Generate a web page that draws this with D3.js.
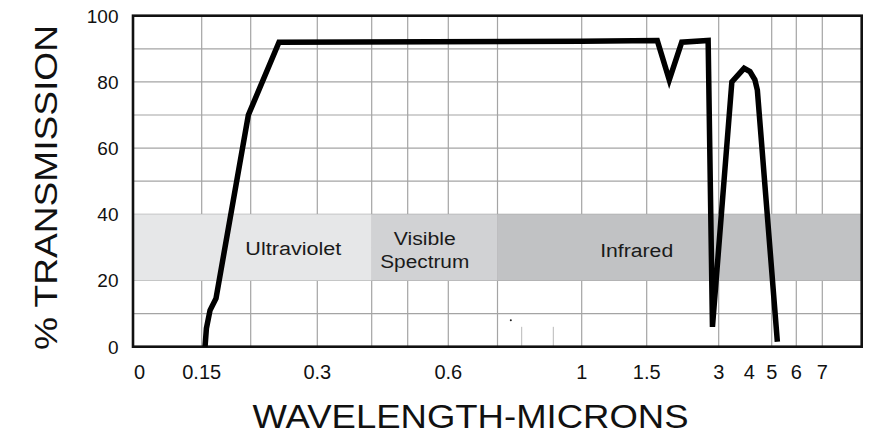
<!DOCTYPE html>
<html>
<head>
<meta charset="utf-8">
<script src="https://cdn.jsdelivr.net/npm/d3@7"></script>
<style>
  html, body { margin: 0; padding: 0; background: #fff; }
  svg { display: block; font-family: "Liberation Sans", Arial, Helvetica, sans-serif; }
</style>
</head>
<body>
<svg id="chart" width="879" height="438"></svg>
<script>
// ---------------- DATA ----------------
// Breakpoints of the (non-uniform) wavelength axis, in microns
const xBreaks = [0, 0.15, 0.2, 0.3, 0.4, 0.5, 0.6, 0.7, 0.8, 0.9, 1, 1.5, 3, 4, 5, 6, 7];
// Tick labels on the x axis (microns)
const xTickValues = [0, 0.15, 0.3, 0.6, 1, 1.5, 3, 4, 5, 6, 7];
const xTickLabels = ["0", "0.15", "0.3", "0.6", "1", "1.5", "3", "4", "5", "6", "7"];
// Vertical grid lines (microns)
const xGridValues = [0.15, 0.2, 0.3, 0.4, 0.5, 0.6, 0.7, 1, 1.5, 3, 5, 6, 7];
const xShortGridValues = [0.8, 0.9];
// Y ticks (% transmission)
const yTickValues = [0, 20, 40, 60, 80, 100];
const yGridValues = [10, 20, 30, 40, 50, 60, 70, 80, 90];
// Spectrum bands
const bandNames = ["Ultraviolet", "Visible Spectrum", "Infrared"];
const bandStart = [null, 0.4, 0.7];
const bandEnd = [0.4, 0.7, null];
const bandLow = 20, bandHigh = 40;
// Transmission curve
const curveWavelength = [0.1534, 0.1548, 0.1585, 0.1646, 0.1976, 0.2425, 1.0, 1.72, 1.97, 2.23, 2.78, 2.87, 3.43, 3.83, 4.03, 4.25, 4.36, 5.23];
const curveTransmission = [0, 5.5, 11, 14.6, 70, 92.0, 92.3, 92.5, 80.6, 92.0, 92.5, 6, 80, 84.1, 83.1, 80.6, 77.5, 1.5];

// ---------------- LAYOUT ----------------
const plot = { left: 133, top: 15.7, right: 861.7, bottom: 346.7 };
const xBreakPx = [139.5, 201.7, 250.7, 317.3, 371.7, 407.7, 448.3, 497.5, 521.7, 553.3, 581.7, 646.7, 718.7, 749.3, 771.7, 796.3, 822.3];
const bandColors = ["#e6e7e8", "#d1d2d4", "#c1c2c4"];
const bandLabelAt = [0.264, 0.542, 1.423];
const gridColor = "#a4a4a4";

const svg = d3.select("#chart");
const x = d3.scaleLinear().domain(xBreaks).range(xBreakPx);
const y = d3.scaleLinear().domain([0, 100]).range([plot.bottom, plot.top]);

// Horizontal grid
svg.append("g").selectAll("line").data(yGridValues).join("line")
  .attr("x1", plot.left).attr("x2", plot.right)
  .attr("y1", d => y(d)).attr("y2", d => y(d))
  .attr("stroke", gridColor).attr("stroke-width", 1.2);

// Vertical grid
svg.append("g").selectAll("line").data(xGridValues).join("line")
  .attr("x1", d => x(d)).attr("x2", d => x(d))
  .attr("y1", plot.top).attr("y2", plot.bottom)
  .attr("stroke", gridColor).attr("stroke-width", 1.2);
svg.append("g").selectAll("line").data(xShortGridValues).join("line")
  .attr("x1", d => x(d)).attr("x2", d => x(d))
  .attr("y1", y(6)).attr("y2", plot.bottom)
  .attr("stroke", "#b8b8b8").attr("stroke-width", 1);

// Bands
const bands = bandNames.map((n, i) => ({
  name: n,
  x0: bandStart[i] == null ? plot.left : x(bandStart[i]),
  x1: bandEnd[i] == null ? plot.right : x(bandEnd[i]),
  color: bandColors[i],
  labelX: x(bandLabelAt[i])
}));
svg.append("g").selectAll("rect").data(bands).join("rect")
  .attr("x", d => d.x0).attr("width", d => d.x1 - d.x0)
  .attr("y", y(bandHigh)).attr("height", y(bandLow) - y(bandHigh))
  .attr("fill", d => d.color);

const bandText = svg.append("g").attr("fill", "#1a1a1a").attr("font-size", 18).attr("text-anchor", "middle");
// Ultraviolet
bandText.append("text").attr("x", bands[0].labelX).attr("y", 255)
  .attr("textLength", 96).attr("lengthAdjust", "spacingAndGlyphs").text("Ultraviolet");
// Visible Spectrum (two lines)
const vis = bands[1].name.split(" ");
bandText.append("text").attr("x", bands[1].labelX).attr("y", 245)
  .attr("textLength", 62).attr("lengthAdjust", "spacingAndGlyphs").text(vis[0]);
bandText.append("text").attr("x", bands[1].labelX).attr("y", 268)
  .attr("textLength", 89).attr("lengthAdjust", "spacingAndGlyphs").text(vis[1]);
// Infrared
bandText.append("text").attr("x", bands[2].labelX).attr("y", 256.5)
  .attr("textLength", 73).attr("lengthAdjust", "spacingAndGlyphs").text("Infrared");

// Small artifact dot
svg.append("circle").attr("cx", x(0.755)).attr("cy", y(8)).attr("r", 1).attr("fill", "#222");

// Frame
svg.append("rect")
  .attr("x", plot.left).attr("y", plot.top)
  .attr("width", plot.right - plot.left).attr("height", plot.bottom - plot.top)
  .attr("fill", "none").attr("stroke", "#111").attr("stroke-width", 2.6);

// Curve
const pts = curveWavelength.map((w, i) => [w, curveTransmission[i]]);
svg.append("path")
  .datum(pts)
  .attr("d", d3.line().x(d => x(d[0])).y(d => y(d[1])))
  .attr("fill", "none").attr("stroke", "#000").attr("stroke-width", 5.5)
  .attr("stroke-linejoin", "miter").attr("stroke-miterlimit", 4).attr("stroke-linecap", "butt");

// X tick labels
svg.append("g").attr("font-size", 20).attr("fill", "#111").attr("text-anchor", "middle")
  .selectAll("text").data(xTickValues).join("text")
  .attr("x", d => x(d)).attr("y", 378.5)
  .text((d, i) => xTickLabels[i]);

// Y tick labels
svg.append("g").attr("font-size", 19).attr("fill", "#111").attr("text-anchor", "end")
  .selectAll("text").data(yTickValues).join("text")
  .attr("x", 118.5).attr("y", d => y(d) + 6.8)
  .text(d => d);

// Axis titles
svg.append("text")
  .attr("transform", "translate(57,187.5) rotate(-90)")
  .attr("text-anchor", "middle").attr("font-size", 32).attr("fill", "#111")
  .attr("textLength", 325).attr("lengthAdjust", "spacingAndGlyphs")
  .text("% TRANSMISSION");
svg.append("text")
  .attr("x", 470.5).attr("y", 428.3)
  .attr("text-anchor", "middle").attr("font-size", 34).attr("fill", "#111")
  .attr("textLength", 436).attr("lengthAdjust", "spacingAndGlyphs")
  .text("WAVELENGTH-MICRONS");
</script>
</body>
</html>
